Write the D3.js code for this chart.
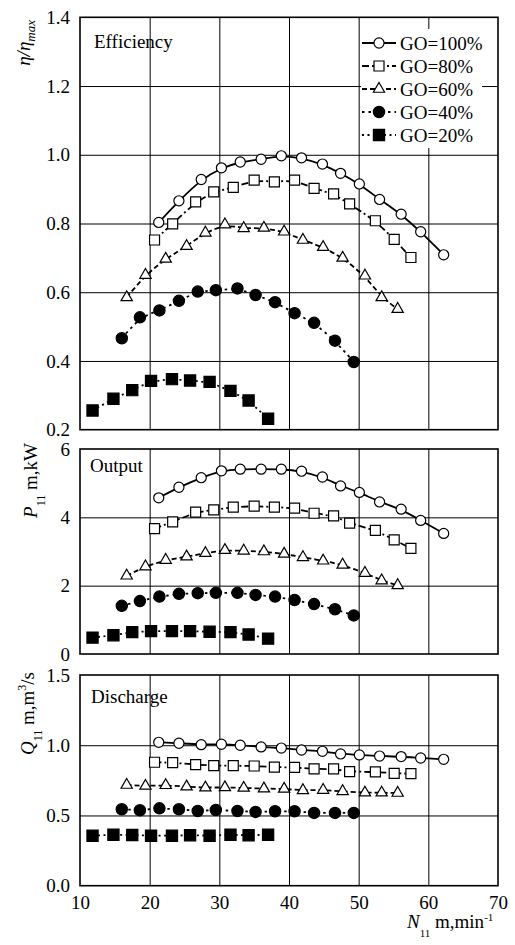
<!DOCTYPE html>
<html><head><meta charset="utf-8">
<script src="https://cdn.jsdelivr.net/npm/d3@7"></script>
<style>
html,body{margin:0;padding:0;background:#fff;}
svg{display:block;}
svg text{font-family:"Liberation Serif","Times New Roman",serif !important;fill:#000;}
</style></head>
<body>
<svg id="chart" width="515" height="945"></svg>
<script>
// ---- data ----
const seriesNames = ["GO=100%","GO=80%","GO=60%","GO=40%","GO=20%"];
const xTicks = [10,20,30,40,50,60,70];
const effTicks = [0.2,0.4,0.6,0.8,1.0,1.2,1.4];
const outTicks = [0,2,4,6];
const disTicks = [0.0,0.5,1.0,1.5];

const n100 = [21.3,24.2,27.4,30.3,33.0,36.0,38.9,41.8,44.8,47.4,50.1,53.0,56.1,58.9,62.2];
const eff100 = [0.803,0.866,0.928,0.962,0.979,0.987,0.997,0.991,0.973,0.946,0.915,0.870,0.827,0.776,0.709];
const out100 = [4.57,4.88,5.16,5.36,5.41,5.41,5.41,5.35,5.18,4.92,4.73,4.45,4.24,3.91,3.53];
const dis100 = [1.021,1.014,1.004,1.007,1.0,0.988,0.98,0.966,0.957,0.938,0.931,0.923,0.919,0.909,0.90];

const n80 = [20.7,23.3,26.6,29.2,32.0,35.0,37.9,40.8,43.6,46.4,48.7,52.4,55.1,57.5];
const eff80 = [0.752,0.799,0.863,0.892,0.905,0.926,0.921,0.926,0.902,0.886,0.857,0.808,0.754,0.701];
const out80 = [3.67,3.87,4.15,4.22,4.30,4.33,4.30,4.27,4.12,4.04,3.83,3.62,3.34,3.09];
const dis80 = [0.879,0.876,0.862,0.855,0.855,0.852,0.844,0.842,0.831,0.831,0.812,0.810,0.800,0.798];

const n60 = [16.7,19.4,22.3,25.3,28.0,30.8,33.5,36.4,39.3,42.0,44.9,47.7,50.9,53.3,55.6];
const eff60 = [0.585,0.650,0.697,0.734,0.773,0.797,0.786,0.787,0.776,0.752,0.731,0.700,0.648,0.585,0.551];
const out60 = [2.29,2.56,2.75,2.85,2.95,3.04,3.02,3.00,2.93,2.83,2.73,2.61,2.37,2.15,2.01];
const dis60 = [0.717,0.710,0.715,0.705,0.698,0.700,0.696,0.691,0.689,0.679,0.681,0.672,0.662,0.662,0.660];

const n40 = [16.0,18.6,21.4,24.2,26.9,29.5,32.6,35.2,38.0,40.8,43.6,46.6,49.3];
const eff40 = [0.466,0.527,0.547,0.575,0.602,0.606,0.611,0.592,0.571,0.539,0.511,0.459,0.397];
const out40 = [1.41,1.55,1.68,1.76,1.78,1.79,1.79,1.73,1.68,1.58,1.46,1.31,1.13];
const dis40 = [0.544,0.537,0.551,0.544,0.532,0.539,0.532,0.525,0.530,0.530,0.518,0.518,0.518];

const n20 = [11.8,14.8,17.5,20.2,23.2,25.8,28.6,31.6,34.2,37.0];
const eff20 = [0.256,0.290,0.315,0.342,0.347,0.343,0.339,0.313,0.285,0.232];
const out20 = [0.48,0.55,0.64,0.67,0.67,0.67,0.65,0.64,0.57,0.45];
const dis20 = [0.356,0.363,0.361,0.356,0.356,0.359,0.356,0.363,0.359,0.363];

// ---- styles ----
const styles = [
  {dash:null, width:1.8, sym:d3.symbolCircle, size:80, fill:"#fff"},
  {dash:"7,3,2,3", width:1.8, sym:d3.symbolSquare, size:100, fill:"#fff"},
  {dash:"5,3", width:1.8, sym:d3.symbolTriangle, size:55, fill:"#fff"},
  {dash:"2.5,4", width:1.8, sym:d3.symbolCircle, size:100, fill:"#000"},
  {dash:"2,3.5", width:1.8, sym:d3.symbolSquare, size:125, fill:"#000"}
];
const nArr = [n100,n80,n60,n40,n20];
const panels = [
  {key:"eff", vals:[eff100,eff80,eff60,eff40,eff20], domain:[0.2,1.4], range:[429.7,17.3], ticks:effTicks, fmt:d3.format(".1f"), title:"Efficiency", tx:94, ty:48},
  {key:"out", vals:[out100,out80,out60,out40,out20], domain:[0,6], range:[654,449], ticks:outTicks, fmt:d3.format("d"), title:"Output", tx:90, ty:472},
  {key:"dis", vals:[dis100,dis80,dis60,dis40,dis20], domain:[0,1.5], range:[885.7,675], ticks:disTicks, fmt:d3.format(".1f"), title:"Discharge", tx:91, ty:703}
];

const svg = d3.select("#chart");
const FS = 19;
const x = d3.scaleLinear().domain([10,70]).range([80,498]);

panels.forEach((p, pi) => {
  const y = d3.scaleLinear().domain(p.domain).range(p.range);
  const g = svg.append("g");
  // grid
  g.append("g").attr("transform",`translate(0,${p.range[0]})`)
    .call(d3.axisBottom(x).tickValues(xTicks.slice(1,-1)).tickSize(-(p.range[0]-p.range[1])).tickFormat(""))
    .call(s=>s.select(".domain").remove())
    .call(s=>s.selectAll("line").attr("stroke","#000").attr("stroke-width",1));
  g.append("g").attr("transform",`translate(${x.range()[0]},0)`)
    .call(d3.axisLeft(y).tickValues(p.ticks.slice(1,-1)).tickSize(-(x.range()[1]-x.range()[0])).tickFormat(""))
    .call(s=>s.select(".domain").remove())
    .call(s=>s.selectAll("line").attr("stroke","#000").attr("stroke-width",1));
  // y labels
  g.append("g").attr("transform",`translate(${x.range()[0]},0)`)
    .call(d3.axisLeft(y).tickValues(p.ticks).tickSize(0).tickPadding(10).tickFormat(p.fmt))
    .call(s=>s.select(".domain").remove())
    .call(s=>s.selectAll("text").attr("font-size",FS));
  // legend background (top panel)
  if (pi === 0) {
    g.append("rect").attr("x",361).attr("y",29).attr("width",121).attr("height",119).attr("fill","#fff");
  }
  // frame
  g.append("rect").attr("x",x.range()[0]).attr("y",p.range[1])
    .attr("width",x.range()[1]-x.range()[0]).attr("height",p.range[0]-p.range[1])
    .attr("fill","none").attr("stroke","#000").attr("stroke-width",1.6);
  // title
  g.append("text").attr("x",p.tx).attr("y",p.ty).attr("font-size",FS).text(p.title);
  // lines
  const line = d3.line().curve(d3.curveBasis).x(d=>x(d[0])).y(d=>y(d[1]));
  p.vals.forEach((vals, si) => {
    const pts = nArr[si].map((n,i)=>[n, vals[i]]);
    const st = styles[si];
    g.append("path").datum(pts).attr("d",line).attr("fill","none")
      .attr("stroke","#000").attr("stroke-width",st.width)
      .attr("stroke-dasharray",st.dash);
  });
  p.vals.forEach((vals, si) => {
    const pts = nArr[si].map((n,i)=>[n, vals[i]]);
    const st = styles[si];
    g.selectAll(null).data(pts).enter().append("path")
      .attr("d", d3.symbol().type(st.sym).size(st.size))
      .attr("transform", d=>`translate(${x(d[0])},${y(d[1])})`)
      .attr("fill", st.fill).attr("stroke","#000").attr("stroke-width",1.2);
  });
});

// legend
const lg = svg.append("g");
seriesNames.forEach((name, i) => {
  const yy = 43 + i*23;
  const st = styles[i];
  lg.append("line").attr("x1",362).attr("x2",396).attr("y1",yy).attr("y2",yy)
    .attr("stroke","#000").attr("stroke-width",st.width).attr("stroke-dasharray",st.dash);
  lg.append("path").attr("d",d3.symbol().type(st.sym).size(st.size))
    .attr("transform",`translate(379,${yy})`).attr("fill",st.fill).attr("stroke","#000").attr("stroke-width",1.2);
  lg.append("text").attr("x",400).attr("y",yy).attr("dy","0.35em").attr("font-size",FS).text(name);
});

// x axis labels
svg.append("g").attr("transform","translate(0,885.7)")
  .call(d3.axisBottom(x).tickValues(xTicks).tickSize(0).tickPadding(10).tickFormat(d3.format("d")))
  .call(s=>s.select(".domain").remove())
  .call(s=>s.selectAll("text").attr("font-size",FS));

// x title
const xt = svg.append("text").attr("x",407).attr("y",928).attr("font-size",FS);
xt.append("tspan").attr("font-style","italic").text("N");
xt.append("tspan").attr("font-size",11).attr("dy",9).text("11");
xt.append("tspan").attr("dy",-9).text(" m,min");
xt.append("tspan").attr("font-size",11).attr("dy",-7).text("-1");

// y titles
const yt1 = svg.append("text").attr("transform","translate(30,20) rotate(-90)").attr("text-anchor","end").attr("font-size",FS).attr("font-style","italic");
yt1.append("tspan").text("η/η");
yt1.append("tspan").attr("font-size",13).attr("dy",5).text("max");

const yt2 = svg.append("text").attr("transform","translate(37,443) rotate(-90)").attr("text-anchor","end").attr("font-size",FS);
yt2.append("tspan").attr("font-style","italic").text("P");
yt2.append("tspan").attr("font-size",12).attr("dy",8).text("11");
yt2.append("tspan").attr("dy",-8).text(" m,kW");

const yt3 = svg.append("text").attr("transform","translate(34,672) rotate(-90)").attr("text-anchor","end").attr("font-size",FS);
yt3.append("tspan").attr("font-style","italic").text("Q");
yt3.append("tspan").attr("font-size",12).attr("dy",8).text("11");
yt3.append("tspan").attr("dy",-8).text(" m,m");
yt3.append("tspan").attr("font-size",12).attr("dy",-8).text("3");
yt3.append("tspan").attr("dy",8).text("/s");
</script>
</body></html>
